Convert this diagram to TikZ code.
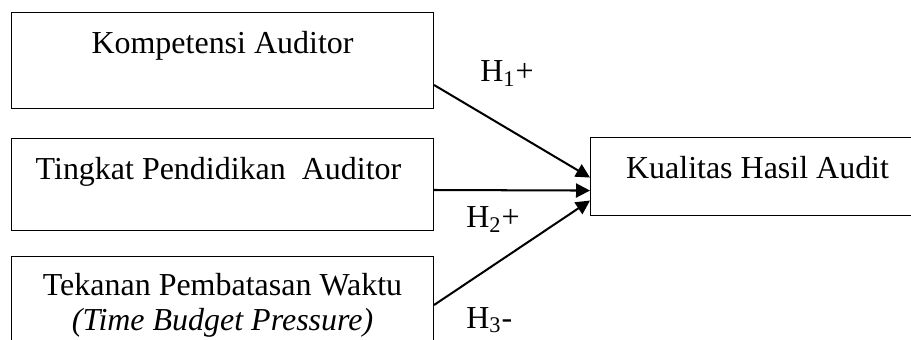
\documentclass[tikz,border=0pt]{standalone}
\usepackage{fontspec}
\setmainfont{Liberation Serif}
\usetikzlibrary{arrows.meta,calc}
\begin{document}
\begin{tikzpicture}[x=0.02cm,y=-0.02cm,
	kotak/.style={draw,line width=0.65pt,inner sep=0pt,anchor=north west,align=center,
		font=\fontsize{18.2}{19.9}\selectfont},
	panah/.style={-{Triangle[length=0.28cm,width=0.28cm]},line width=1.15pt},
	hip/.style={anchor=base west,inner sep=0pt,font=\fontsize{18.2}{19.9}\selectfont}]
	\useasboundingbox (0,0) rectangle (911,340);
	\clip (0,0) rectangle (911,340);
	
	% Variabel bebas
	\node[kotak,minimum width=8.44cm,text height=0.82cm,text depth=1.1cm] (kompetensi) at (11,12) {Kompetensi Auditor};
	\node[kotak,minimum width=8.44cm,text height=0.82cm,text depth=1.02cm] (pendidikan) at (11,138) {Tingkat Pendidikan~ Auditor~};
	\node[kotak,minimum width=8.44cm,text height=1.48cm,text depth=0.6cm] (tekanan) at (11,256) {Tekanan Pembatasan Waktu\\\textit{(Time Budget Pressure)}};
	
	% Variabel terikat
	\node[kotak,minimum width=6.68cm,text height=0.82cm,text depth=0.74cm] (kualitas) at (590,137) {Kualitas Hasil Audit};
	
	% Panah
	\draw[panah] ($(kompetensi.north east)+(0,73)$) -- ($(kualitas.west)+(0,1)$);
	\draw[panah] ($(pendidikan.north east)+(0,52)$) -- ($(kualitas.west)+(0,14)$);
	\draw[panah] ($(tekanan.north east)+(0,49)$) -- ($(kualitas.west)+(0,24)$);
	
	% Hipotesis
	\node[hip] (h1) at (480,82) {H\textsubscript{1}+};
	\node[hip] (h2) at (466,228) {H\textsubscript{2}+};
	\node[hip] (h3) at (466,328) {H\textsubscript{3}-};
\end{tikzpicture}
\end{document}
